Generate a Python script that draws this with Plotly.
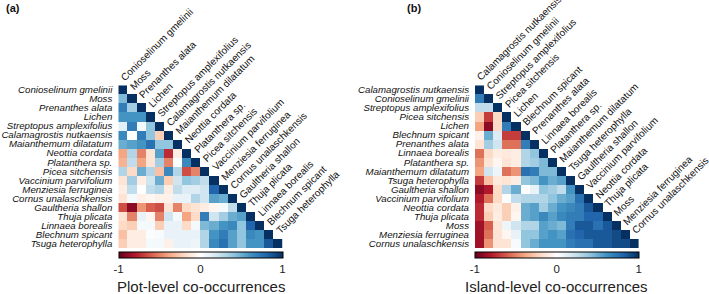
import plotly.graph_objects as go

plot_species = [
    "Conioselinum gmelinii", "Moss", "Prenanthes alata", "Lichen",
    "Streptopus amplexifolius", "Calamagrostis nutkaensis", "Maianthemum dilatatum",
    "Neottia cordata", "Platanthera sp.", "Picea sitchensis", "Vaccinium parvifolium",
    "Menziesia ferruginea", "Cornus unalaschkensis", "Gaultheria shallon",
    "Thuja plicata", "Linnaea borealis", "Blechnum spicant", "Tsuga heterophylla",
]
# lower-triangle correlations (row i, columns 0..i-1); diagonal = 1
plot_lower = [
    [],
    [0.45],
    [0.70, 0.35],
    [0.60, 0.60, 0.60],
    [0.12, 0.70, 0.05, 0.40],
    [0.65, 0.00, 0.70, 0.40, -0.25],
    [0.50, 0.55, 0.60, 0.75, 0.40, 0.40],
    [-0.40, 0.30, -0.50, -0.15, 0.55, -0.75, -0.10],
    [-0.35, 0.25, -0.40, -0.15, 0.35, -0.50, 0.02, 0.65],
    [0.30, -0.20, 0.50, 0.30, -0.30, 0.65, 0.30, -0.65, -0.50],
    [-0.15, 0.35, -0.10, 0.20, 0.50, -0.25, 0.20, 0.40, 0.35, 0.25],
    [-0.10, 0.25, 0.00, 0.25, 0.30, -0.10, 0.25, 0.15, 0.15, 0.20, 0.80],
    [-0.15, 0.05, -0.08, -0.05, -0.08, -0.08, 0.10, 0.10, 0.30, 0.20, 0.55, 0.50],
    [-0.65, -0.90, -0.45, -0.60, -0.65, -0.15, -0.50, -0.20, -0.15, -0.10, -0.05, 0.05, 0.25],
    [-0.15, -0.50, 0.10, -0.05, -0.50, 0.20, 0.05, -0.40, -0.20, 0.70, 0.20, 0.35, 0.50, 0.55],
    [-0.20, -0.25, 0.05, 0.05, -0.25, 0.10, 0.10, -0.20, 0.05, 0.45, 0.50, 0.60, 0.65, 0.40, 0.80],
    [-0.30, -0.10, -0.10, 0.02, 0.03, 0.10, 0.10, 0.10, 0.10, 0.30, 0.60, 0.70, 0.55, 0.40, 0.65, 0.60],
    [-0.25, -0.10, -0.10, 0.05, 0.05, -0.08, 0.10, 0.10, 0.08, 0.30, 0.65, 0.75, 0.55, 0.40, 0.60, 0.60, 0.85],
]

island_species = [
    "Calamagrostis nutkaensis", "Conioselinum gmelinii", "Streptopus amplexifolius",
    "Picea sitchensis", "Lichen", "Blechnum spicant", "Prenanthes alata",
    "Linnaea borealis", "Platanthera sp.", "Maianthemum dilatatum", "Tsuga heterophylla",
    "Gaultheria shallon", "Vaccinium parvifolium", "Neottia cordata", "Thuja plicata",
    "Moss", "Menziesia ferruginea", "Cornus unalaschkensis",
]
island_lower = [
    [],
    [0.70],
    [0.25, 0.25],
    [-0.25, -0.70, -0.20],
    [-0.40, -0.90, -0.20, 0.70],
    [-0.08, 0.50, 0.15, -0.70, -0.70],
    [-0.15, 0.35, 0.20, -0.55, -0.55, 0.70],
    [-0.55, -0.20, -0.10, -0.12, -0.10, 0.30, 0.40],
    [-0.45, -0.15, -0.05, -0.15, -0.10, 0.30, 0.35, 0.45],
    [-0.40, 0.20, 0.08, -0.55, -0.45, 0.75, 0.70, 0.45, 0.45],
    [-0.70, -0.30, -0.12, -0.15, -0.10, 0.40, 0.45, 0.60, 0.50, 0.55],
    [-0.90, -0.80, -0.20, 0.30, 0.50, 0.00, 0.10, 0.40, 0.35, 0.25, 0.60],
    [-0.80, -0.55, -0.20, 0.02, 0.25, 0.30, 0.30, 0.30, 0.40, 0.50, 0.55, 0.75],
    [-0.75, -0.20, -0.12, -0.25, -0.08, 0.50, 0.55, 0.35, 0.50, 0.60, 0.65, 0.70, 0.85],
    [-0.75, -0.25, -0.10, -0.25, -0.05, 0.50, 0.55, 0.65, 0.55, 0.65, 0.70, 0.70, 0.80, 0.80],
    [-0.85, -0.60, -0.15, 0.08, 0.20, 0.30, 0.30, 0.55, 0.50, 0.45, 0.70, 0.85, 0.85, 0.75, 0.85],
    [-0.85, -0.55, -0.15, -0.05, 0.10, 0.40, 0.40, 0.55, 0.60, 0.55, 0.75, 0.80, 0.85, 0.85, 0.85, 0.90],
    [-0.85, -0.45, -0.15, -0.15, 0.03, 0.40, 0.50, 0.60, 0.60, 0.60, 0.70, 0.75, 0.75, 0.85, 0.85, 0.90, 0.90],
]

colorbar_ticks = [-1, 0, 1]
panel_titles = ["Plot-level co-occurrences", "Island-level co-occurrences"]
panel_tags = ["(a)", "(b)"]

RDBU = ["#67001F", "#B2182B", "#D6604D", "#F4A582", "#FDDBC7", "#FFFFFF",
        "#D1E5F0", "#92C5DE", "#4393C3", "#2166AC", "#053061"]
colorscale = [[i / (len(RDBU) - 1), c] for i, c in enumerate(RDBU)]

FONT = "Liberation Sans, Arial, sans-serif"

FW, FH = 709, 294


def fx(px):
    return px / FW


def fy(py):
    return 1 - py / FH


def full_matrix(lower):
    n = len(lower)
    z = [[None] * n for _ in range(n)]
    for i, row in enumerate(lower):
        for j, v in enumerate(row):
            z[i][j] = v
        z[i][i] = 1.0
    return z


# pixel geometry of the two panels
panels = [
    dict(x0=118.3, x1=282.7),
    dict(x0=475.0, x1=638.6),
]
y_top, y_bot = 85.3, 248.0
cb_top, cb_thick = 251.6, 6.0

fig = go.Figure()
annotations = []
for p, (species, lower, title) in enumerate(zip(
        [plot_species, island_species], [plot_lower, island_lower], panel_titles)):
    n = len(species)
    xa = "x" if p == 0 else "x2"
    ya = "y" if p == 0 else "y2"
    x0, x1 = panels[p]["x0"], panels[p]["x1"]
    fig.add_trace(go.Heatmap(
        z=full_matrix(lower), x=list(range(n)), y=list(range(n)),
        xaxis=xa, yaxis=ya, zmin=-1, zmax=1, colorscale=colorscale,
        hoverongaps=False,
        colorbar=dict(
            orientation="h", x=fx((x0 + x1) / 2), xanchor="center",
            y=fy(cb_top), yanchor="top", len=x1 - x0, lenmode="pixels",
            thickness=cb_thick, thicknessmode="pixels", xpad=0, ypad=0,
            outlinewidth=1, outlinecolor="#000000",
            tickvals=colorbar_ticks, ticktext=[str(t) for t in colorbar_ticks],
            ticks="", tickfont=dict(family=FONT, size=11.5, color="#222222"),
        ),
    ))
    axkey = "" if p == 0 else "2"
    fig.update_layout(**{
        f"xaxis{axkey}": dict(domain=[fx(x0), fx(x1)], range=[-0.5, n - 0.5],
                              showticklabels=False, showgrid=False, zeroline=False,
                              anchor=ya),
        f"yaxis{axkey}": dict(domain=[fy(y_bot), fy(y_top)], range=[n - 0.5, -0.5],
                              tickvals=list(range(n)), ticktext=species,
                              tickfont=dict(family=FONT, size=9.7, color="#111111", style="italic"),
                              ticks="", ticklabelstandoff=5,
                              showgrid=False, zeroline=False,
                              anchor=xa),
    })
    # diagonal column labels
    for k, name in enumerate(species):
        annotations.append(dict(
            x=k + 0.5, y=k - 0.5, xref=xa, yref=ya, text=name, showarrow=False,
            xanchor="left", yanchor="bottom", textangle=-45,
            xshift=-11.6, yshift=0.0,
            font=dict(family=FONT, size=10, color="#111111"),
        ))
    # colorbar title
    annotations.append(dict(
        x=fx((x0 + x1) / 2), y=fy(286), xref="paper", yref="paper",
        text=title, showarrow=False, xanchor="center", yanchor="middle",
        font=dict(family=FONT, size=15, color="#222222"),
    ))
tag_x = [4, 405]
for tx, tag in zip(tag_x, panel_tags):
    annotations.append(dict(
        x=fx(tx), y=fy(8), xref="paper", yref="paper", text=f"<b>{tag}</b>",
        showarrow=False, xanchor="left", yanchor="middle",
        font=dict(family=FONT, size=11, color="#111111"),
    ))

fig.update_layout(
    width=FW, height=FH, margin=dict(l=0, r=0, t=0, b=0, autoexpand=False),
    paper_bgcolor="white", plot_bgcolor="white", showlegend=False,
    annotations=annotations,
)
# remove the default 8 px page margin so the figure fills the window
fig.write_html("out.html", config={"displayModeBar": False},
               post_script="document.body.style.margin='0px';")
